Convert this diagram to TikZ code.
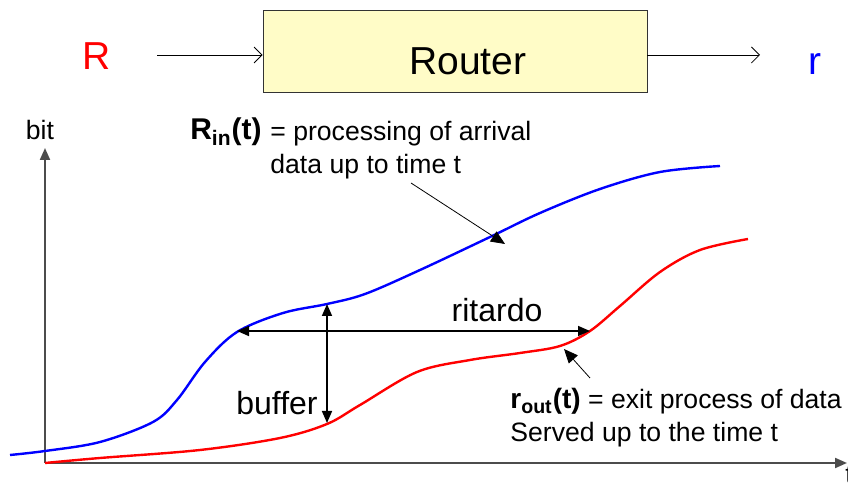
\documentclass[tikz,border=0pt]{standalone}
\usepackage{fontspec}
\setmainfont{Liberation Sans}
\usetikzlibrary{arrows.meta}
\begin{document}
\begin{tikzpicture}[
        x=0.5pt, y=-0.5pt,
        big/.style={font=\fontsize{19.5}{23}\selectfont, inner sep=0pt},
        note/.style={font=\fontsize{13.3}{16.5}\selectfont, align=left, inner sep=0pt},
        tag/.style={font=\fontsize{16}{19}\selectfont, inner sep=0pt},
        routerbox/.style={draw=gray!40!black, fill=yellow!22, thin,
            minimum width=192pt, minimum height=41pt},
        flow/.style={thin, -{Straight Barb[length=4pt,width=8pt]}},
        axis/.style={gray!60!black, line width=1pt, -{Triangle[length=6pt,width=5pt]}},
        curve/.style={line width=1.2pt, smooth, tension=0.55},
        dim/.style={thick, {Triangle[length=6pt,width=5pt]}-{Triangle[length=6pt,width=5pt]}},
        pointer/.style={thin, -{Triangle[length=7pt,width=6pt]}}
    ]
    \useasboundingbox (0,0) rectangle (848,486);

    % --- Top: router block ---
    \node[routerbox] (router) at (455,51) {};
    \node[big, anchor=base] (routertext) at (468,75) {Router};
    \node[big, red, anchor=base] (rinput) at (97,70) {R};
    \node[big, blue, anchor=base] (routput) at (815,75) {r};
    \coordinate (inA) at (157,55);
    \coordinate (outB) at (760,55);
    \draw[flow] (inA) -- (inA -| router.west);
    \draw[flow] (outB -| router.east) -- (outB);

    % --- Axes ---
    \coordinate (o) at (45,463);
    \coordinate (ytop) at (45,148);
    \coordinate (xend) at (847,463);
    \draw[axis] (o) -- (ytop);
    \draw[axis] (o) -- (xend);
    \node[note, anchor=base] (bitlab) at (40,140) {bit};
    \node[note, anchor=base west] (tlab) at (845,484) {t};

    % --- Curves ---
    \draw[curve, blue] plot coordinates {(10,455) (45,451) (100,442) (153,422)
        (177,400) (205,362) (237,332) (283,313) (327,304) (365,294) (420,270)
        (490,237) (540,213) (600,189) (660,172) (720,166)};
    \draw[curve, red] plot coordinates {(45,463) (100,458) (200,450) (280,438)
        (327,424) (360,405) (417,372) (470,360) (520,353) (560,346) (590,331)
        (620,306) (660,272) (700,250) (748,239)};

    % --- Delay and buffer ---
    \coordinate (dl) at (237,331);
    \coordinate (dr) at (590,331);
    \draw[dim] (dl) -- (dr);
    \node[tag, anchor=base] (ritlab) at (497,322) {ritardo};
    \coordinate (bt) at (327,304);
    \coordinate (bb) at (327,423);
    \draw[dim] (bt) -- (bb);
    \node[tag, anchor=base east] (buflab) at (318,415) {buffer};

    % --- Labels with pointers ---
    \node[note, anchor=base east, font=\fontsize{15}{17}\selectfont\bfseries] (rinlab) at (262,140)
    {R\textsubscript{in}(t)};
    \node[note, anchor=base west] (rintext) at (270,174)
    {= processing of arrival\\data up to time t};
    \coordinate (rinfrom) at (411,183);
    \coordinate (rinto) at (505,244);
    \draw[pointer] (rinfrom) -- (rinto);

    \node[note, anchor=base west] (routlab) at (510,442)
    {{\fontsize{14}{17}\selectfont\bfseries r\textsubscript{out}(t)} = exit process of data\\Served up to the time t};
    \coordinate (routfrom) at (590,378);
    \coordinate (routto) at (564,349);
    \draw[pointer] (routfrom) -- (routto);

\end{tikzpicture}
\end{document}
